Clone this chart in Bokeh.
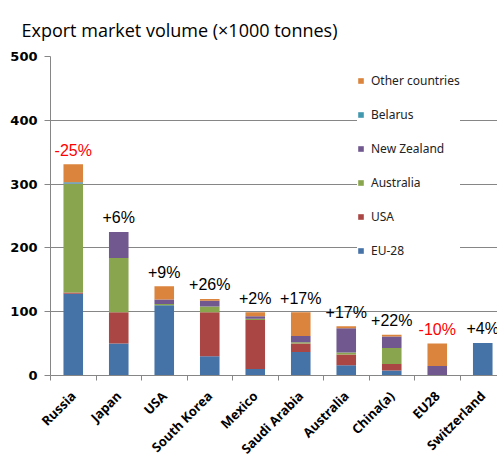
import math
from bokeh.plotting import figure
from bokeh.models import Range1d, FixedTicker, Legend, LegendItem, ColumnDataSource
from bokeh.embed import file_html
from bokeh.resources import INLINE
from bokeh.core.properties import value

# ---------------- data ----------------
markets = ["Russia", "Japan", "USA", "South Korea", "Mexico", "Saudi Arabia",
           "Australia", "China(a)", "EU28", "Switzerland"]
eu28 = [128, 50, 110, 30, 10, 37, 16, 8, 0, 51]
usa = [2, 49, 0, 69, 77, 13, 17, 10, 0, 0]
australia = [170, 85, 2, 9, 2, 2, 3, 25, 0, 0]
new_zealand = [1, 41, 7, 9, 4, 10, 38, 18, 15, 0]
belarus = [2, 0, 0, 0, 0, 0, 0, 0, 0, 0]
other = [28, 0, 21, 3, 6, 37, 3, 3, 35, 0]
changes = ["-25%", "+6%", "+9%", "+26%", "+2%", "+17%", "+17%", "+22%", "-10%", "+4%"]
series_names = ["EU-28", "USA", "Australia", "New Zealand", "Belarus", "Other countries"]
y_ticks = [0, 100, 200, 300, 400, 500]

colors = ["#4572A7", "#AA4643", "#89A54E", "#71588F", "#4198AF", "#DB843D"]
keys = ["eu28", "usa", "australia", "new_zealand", "belarus", "other"]

xs = list(range(len(markets)))
data = dict(x=xs, eu28=eu28, usa=usa, australia=australia,
            new_zealand=new_zealand, belarus=belarus, other=other)
source = ColumnDataSource(data)

totals = [sum(v) for v in zip(eu28, usa, australia, new_zealand, belarus, other)]
label_src = ColumnDataSource(dict(
    x=xs, y=totals, text=changes,
    color=["#FF0000" if c.startswith("-") else "#000000" for c in changes]))

cat_px = 45.5
frame_w = 447
p = figure(width=497, height=466, output_backend="svg", toolbar_location=None,
           x_range=Range1d(-0.5, -0.5 + frame_w / cat_px), y_range=Range1d(0, 500),
           min_border_left=50, min_border_right=0, min_border_top=56,
           min_border_bottom=91,
           title="Export market volume (\u00d71000 tonnes)")
p.outline_line_color = None
p.background_fill_color = "white"
p.border_fill_color = "white"

p.title.text_font = "Open Sans"
p.title.text_font_size = "18px"
p.title.text_font_style = "normal"
p.title.text_color = "#000000"
p.title.offset = -29
p.title.standoff = 29

renderers = p.vbar_stack(keys, x="x", width=0.43, color=colors, source=source,
                         line_color=None)

p.text(x="x", y="y", text="text", source=label_src, text_color="color",
       text_font=value("Liberation Sans"), text_font_size="16px",
       text_align="center", text_baseline="middle", y_offset=-14)

# axes
xa = p.xaxis[0]
xa.ticker = FixedTicker(ticks=xs, minor_ticks=[i - 0.5 for i in range(len(markets) + 1)])
xa.major_label_overrides = {i: m for i, m in enumerate(markets)}
xa.major_label_orientation = math.pi / 4
xa.major_tick_out = 0
xa.major_tick_in = 0
xa.minor_tick_out = 5
xa.minor_tick_in = 0
xa.axis_line_color = "#868686"
xa.minor_tick_line_color = "#868686"
xa.major_label_text_font = "Noto Sans"
xa.major_label_text_font_style = "bold"
xa.major_label_text_font_size = "13px"
xa.major_label_text_color = "#000000"
xa.major_label_standoff = 13

ya = p.yaxis[0]
ya.ticker = FixedTicker(ticks=y_ticks)
ya.major_tick_out = 6
ya.major_tick_in = 0
ya.minor_tick_line_color = None
ya.axis_line_color = "#868686"
ya.major_tick_line_color = "#868686"
ya.major_label_text_font = "DejaVu Sans"
ya.major_label_text_font_style = "bold"
ya.major_label_text_font_size = "13px"
ya.major_label_text_color = "#000000"
ya.major_label_standoff = 7

p.xgrid.grid_line_color = None
p.ygrid.grid_line_color = "#868686"
p.ygrid.ticker = FixedTicker(ticks=y_ticks)

items = [LegendItem(label=series_names[i], renderers=[renderers[i]])
         for i in reversed(range(len(keys)))]
legend = Legend(items=items, location=(307, 116), padding=5, margin=0,
                spacing=17, glyph_width=7, glyph_height=7, label_height=12,
                label_standoff=7, border_line_color=None,
                background_fill_color="white", background_fill_alpha=1.0,
                label_text_font="Noto Sans", label_text_font_size="12px",
                label_text_color="#222222")
p.add_layout(legend, "center")

open("out.html", "w").write(file_html(p, INLINE))
